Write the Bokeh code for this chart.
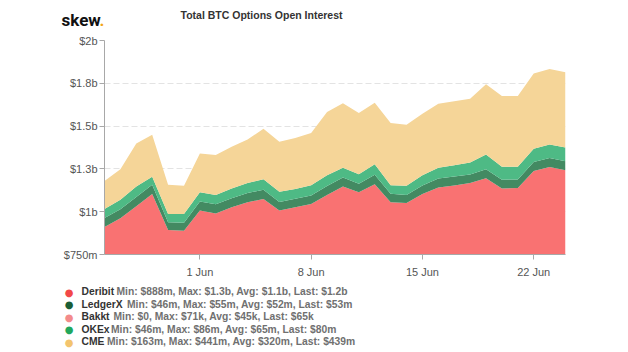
import pandas as pd
from bokeh.plotting import figure
from bokeh.layouts import column, row
from bokeh.models import ColumnDataSource, FixedTicker, Label, DatetimeTickFormatter, Range1d
from bokeh.embed import file_html
from bokeh.resources import INLINE

# ---------------- data ($m) ----------------
dates = pd.date_range("2020-05-26", "2020-06-24", freq="D")
deribit = [910, 962, 1032, 1103, 893, 888, 1007, 990, 1026, 1055, 1074, 1007, 1026, 1045, 1097,
           1147, 1113, 1161, 1055, 1051, 1103, 1142, 1153, 1167, 1196, 1136, 1138, 1238, 1261, 1242]
ledgerx = [53, 52, 54, 55, 46, 47, 53, 53, 52, 54, 54, 50, 50, 50, 53,
           53, 50, 55, 50, 46, 50, 52, 52, 50, 52, 51, 50, 52, 53, 53]
bakkt = [0, 0, 0, 0, 0, 0, 0, 0, 0, 0, 0.052, 0.058, 0.060, 0.062, 0.064,
         0.066, 0.068, 0.070, 0.071, 0.071, 0.070, 0.069, 0.068, 0.067, 0.066, 0.066, 0.065, 0.065, 0.065, 0.065]
okex = [53, 56, 61, 46, 48, 52, 53, 54, 58, 58, 62, 59, 56, 60, 63,
        57, 56, 61, 50, 54, 60, 63, 66, 71, 86, 76, 75, 78, 78, 80]
cme = [163, 178, 251, 246, 170, 164, 227, 234, 243, 254, 295, 292, 299, 305, 369,
       376, 357, 360, 363, 357, 359, 373, 374, 371, 411, 413, 413, 439, 441, 439]

series_names = ["Deribit", "LedgerX", "Bakkt", "OKEx", "CME"]
series_stats = [
    "Min: $888m, Max: $1.3b, Avg: $1.1b, Last: $1.2b",
    "Min: $46m, Max: $55m, Avg: $52m, Last: $53m",
    "Min: $0, Max: $71k, Avg: $45k, Last: $65k",
    "Min: $46m, Max: $86m, Avg: $65m, Last: $80m",
    "Min: $163m, Max: $441m, Avg: $320m, Last: $439m",
]
y_ticks = [750, 1000, 1250, 1500, 1750, 2000]
y_tick_labels = ["$750m", "$1b", "$1.3b", "$1.5b", "$1.8b", "$2b"]
x_ticks = ["2020-06-01", "2020-06-08", "2020-06-15", "2020-06-22"]

# ---------------- style ----------------
area_colors = ["#f97272", "#438a62", "#f3a0a0", "#4eba85", "#f5d598"]
dot_colors = ["#f24848", "#1b5e36", "#f38b8b", "#22a75c", "#f3c46e"]
W = 628
HEADER_H, MAIN_H, LEGEND_H = 32, 248, 72


def blank_fig(h):
    f = figure(width=W, height=h, output_backend="svg", toolbar_location=None,
               x_range=Range1d(0, 1), y_range=Range1d(0, 1),
               x_axis_location=None, y_axis_location=None, min_border=0)
    f.grid.grid_line_color = None
    f.outline_line_color = None
    return f


def add_label(f, h, top, cx, cy, text, **kw):
    # cx, cy: page pixel position; the figure starts at page y=top
    f.add_layout(Label(x=cx, y=(top + h) - cy, x_units="screen", y_units="screen", text=text, **kw))


# ---------------- header ----------------
header = blank_fig(HEADER_H)
add_label(header, HEADER_H, 0, 61, 19, "skew", text_font="Roboto", text_font_style="bold",
          text_font_size="17px", text_color="#111111", text_baseline="alphabetic")
add_label(header, HEADER_H, 0, 99, 19, ".", text_font="Roboto", text_font_style="bold",
          text_font_size="17px", text_color="#f2a516", text_baseline="alphabetic")
add_label(header, HEADER_H, 0, 261, 14, "Total BTC Options Open Interest", text_font="Liberation Sans",
          text_font_style="bold", text_font_size="10.5px", text_color="#333333",
          text_align="center", text_baseline="middle")

# ---------------- main chart ----------------
source = ColumnDataSource(dict(date=dates, Deribit=deribit, LedgerX=ledgerx, Bakkt=bakkt, OKEx=okex, CME=cme))

p = figure(width=W, height=MAIN_H, output_backend="svg", toolbar_location=None,
           x_axis_type="datetime",
           min_border_left=104, min_border_right=63, min_border_top=8, min_border_bottom=24)
p.outline_line_color = None
p.x_range = Range1d(dates[0], dates[-1])
p.y_range = Range1d(y_ticks[0], y_ticks[-1])

p.varea_stack(stackers=series_names, x="date", color=area_colors, source=source)

p.yaxis.ticker = FixedTicker(ticks=y_ticks)
p.yaxis.major_label_overrides = {t: l for t, l in zip(y_ticks, y_tick_labels)}
p.yaxis.axis_line_color = "#a8a8a8"
p.yaxis.major_tick_line_color = "#a8a8a8"
p.yaxis.major_tick_out = 5
p.yaxis.major_tick_in = 0
p.yaxis.minor_tick_line_color = None
p.yaxis.major_label_standoff = 2
p.yaxis.major_label_text_font = "Liberation Sans"
p.yaxis.major_label_text_font_size = "11px"
p.yaxis.major_label_text_color = "#555555"

x_tick_ms = [pd.Timestamp(d).value // 10**6 for d in x_ticks]
p.xaxis.ticker = FixedTicker(ticks=x_tick_ms)
p.xaxis.formatter = DatetimeTickFormatter(days="%-d %b", months="%-d %b")
p.xaxis.axis_line_color = "#a8a8a8"
p.xaxis.major_tick_line_color = "#a8a8a8"
p.xaxis.major_tick_out = 5
p.xaxis.major_tick_in = 0
p.xaxis.minor_tick_line_color = None
p.xaxis.major_label_standoff = 6
p.xaxis.major_label_text_font = "Liberation Sans"
p.xaxis.major_label_text_font_size = "11px"
p.xaxis.major_label_text_color = "#555555"

p.xgrid.grid_line_color = None
p.ygrid.grid_line_color = "#e3e3e3"
p.ygrid.grid_line_dash = "6 3"
p.ygrid.level = "underlay"

# ---------------- legend ----------------
legend = blank_fig(LEGEND_H)
LEG_TOP = HEADER_H + MAIN_H
row_y = [291, 303.5, 316, 328.5, 341]
stat_x = [116, 126.5, 113, 110.5, 106.5]
for name, stats, col, ry, sx in zip(series_names, series_stats, dot_colors, row_y, stat_x):
    add_label(legend, LEGEND_H, LEG_TOP, 68.5, ry + 0.5, "\u25cf", text_font="DejaVu Sans",
              text_font_size="10px", text_color=col, text_align="center", text_baseline="middle")
    add_label(legend, LEGEND_H, LEG_TOP, 81, ry, name, text_font="Liberation Sans", text_font_style="bold",
              text_font_size="10.3px", text_color="#333333", text_baseline="middle")
    add_label(legend, LEGEND_H, LEG_TOP, sx, ry, stats, text_font="Liberation Sans", text_font_style="bold",
              text_font_size="10.3px", text_color="#707070", text_baseline="middle")

layout = column(row(header), row(p), row(legend), spacing=0)
open("out.html", "w").write(file_html(layout, INLINE))
